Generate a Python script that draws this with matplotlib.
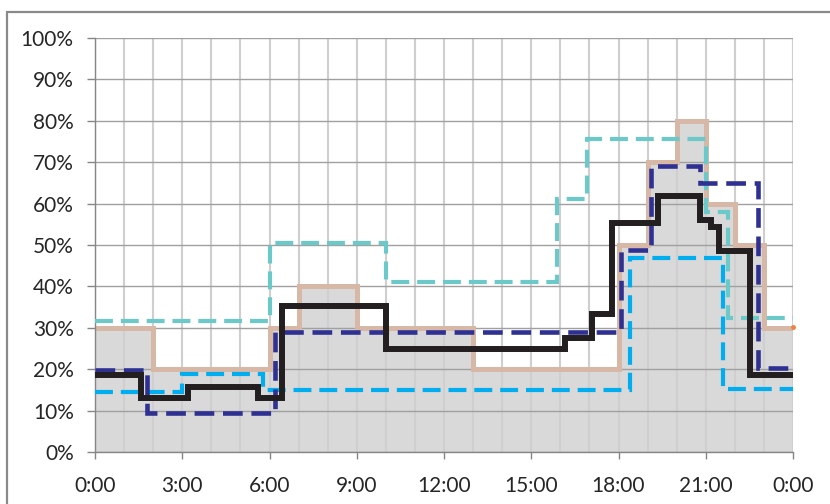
import matplotlib
matplotlib.use("Agg")
import matplotlib.pyplot as plt
from matplotlib.patches import Rectangle

# Hours of day (step edges) and percentage values for each profile
base_edges = [0, 2, 6, 7, 9, 13, 18, 19, 20, 21, 22, 23, 24]
base_vals = [30, 20, 30, 40, 30, 20, 50, 70, 80, 60, 50, 30]

black_edges = [0, 1.58, 3.2, 5.6, 6.43, 10, 16.15, 17.1, 17.76, 19.35, 20.79, 21.19, 21.44, 22.51, 24]
black_vals = [18.7, 13, 15.7, 13, 35.3, 25, 27.5, 33.3, 55.3, 61.8, 56, 54.3, 48.6, 18.7]

navy_edges = [0, 1.78, 6.19, 18.1, 19.13, 20.79, 22.78, 24]
navy_vals = [19.8, 9.4, 29, 48.8, 69, 65, 20.3]

teal_edges = [0, 6, 10, 15.9, 16.9, 21, 21.75, 24]
teal_vals = [31.7, 50.4, 41.1, 61.1, 75.6, 58, 32.3]

blue_edges = [0, 2.98, 5.78, 18.38, 21.58, 24]
blue_vals = [14.6, 18.8, 15, 46.8, 15.2]

x_ticks = [0, 3, 6, 9, 12, 15, 18, 21, 24]
x_labels = ["0:00", "3:00", "6:00", "9:00", "12:00", "15:00", "18:00", "21:00", "0:00"]
y_ticks = list(range(0, 101, 10))
y_labels = [f"{v}%" for v in y_ticks]

plt.rcParams["font.family"] = ["Lato", "DejaVu Sans"]

fig = plt.figure(figsize=(8.3, 5.04), dpi=100)
fig.patch.set_facecolor("white")
ax = fig.add_axes([95 / 830, 1 - 452 / 504, (793 - 95) / 830, (452 - 38) / 504])

# chart frame
fig.patches.append(Rectangle((7 / 830, -0.2), 1.2, 1.2 - 12 / 504,
                             transform=fig.transFigure, fill=False,
                             edgecolor="#8a8a8a", linewidth=1.6, zorder=0))

ax.stairs(base_vals, base_edges, fill=True, baseline=0, color="#d9d9d9", zorder=0.3)
ax.stairs(base_vals, base_edges, baseline=None, color="#d7b7a5", linewidth=3.6, zorder=2)
ax.plot([24], [30.3], marker="o", markersize=2.5, color="#f08040", zorder=2.1, clip_on=False)

dash = (0, (4.3, 1.9))
ax.stairs(blue_vals, blue_edges, baseline=None, color="#00aeef", linewidth=3.0,
          linestyle=dash, zorder=3)
ax.stairs(teal_vals, teal_edges, baseline=None, color="#6cc9c9", linewidth=3.0,
          linestyle=dash, zorder=3.1)
ax.stairs(navy_vals, navy_edges, baseline=None, color="#2e3192", linewidth=3.3,
          linestyle=dash, zorder=3.2)
ax.stairs(black_vals, black_edges, baseline=None, color="#231f20", linewidth=4.3, zorder=4)

for ln in ax.lines + list(ax.patches):
    try:
        ln.set_joinstyle("miter")
    except Exception:
        pass

ax.set_xlim(0, 24)
ax.set_ylim(0, 100)
ax.set_xticks(x_ticks)
ax.set_xticklabels(x_labels)
ax.set_xticks(range(0, 25), minor=True)
ax.set_yticks(y_ticks)
ax.set_yticklabels(y_labels)

ax.set_axisbelow(True)
ax.grid(axis="y", which="major", color="#a0a0a0", linewidth=1.0)
ax.grid(axis="x", which="minor", color="#cfcfcf", linewidth=1.5)
ax.grid(axis="x", which="major", color="#cfcfcf", linewidth=1.5)

for side in ("top", "right"):
    ax.spines[side].set_visible(False)
for side in ("left", "bottom"):
    ax.spines[side].set_color("#868686")
    ax.spines[side].set_linewidth(1.0)

ax.tick_params(axis="y", which="major", direction="out", length=5.8, width=1.0,
               color="#868686", pad=9.5, labelsize=15, labelcolor="#262626")
ax.tick_params(axis="x", which="major", direction="out", length=5.0, width=1.0,
               color="#868686", pad=12, labelsize=15, labelcolor="#262626")
ax.tick_params(axis="x", which="minor", length=0)

fig.savefig("out.png", dpi=100, facecolor="white")
